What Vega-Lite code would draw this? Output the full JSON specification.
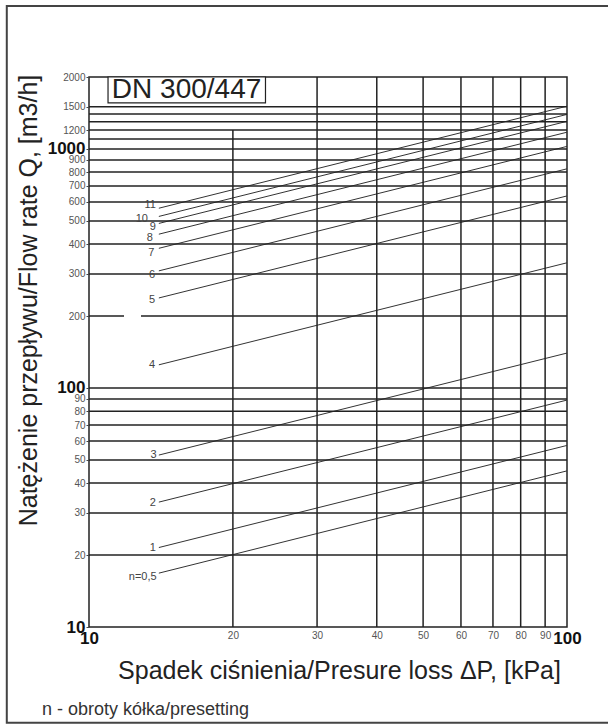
{
  "$schema": "https://vega.github.io/schema/vega-lite/v6.json",
  "width": 478,
  "height": 550,
  "autosize": {"type": "none"},
  "padding": {"left": 89, "top": 77, "right": 41, "bottom": 100},
  "background": "white",
  "config": {
    "view": {"stroke": "#222", "strokeWidth": 1.5},
    "font": "Liberation Sans"
  },
  "title": {
    "text": "n - obroty kółka/presetting",
    "orient": "bottom",
    "anchor": "start",
    "frame": "group",
    "fontSize": 18,
    "fontWeight": "normal",
    "color": "#333",
    "font": "Liberation Sans",
    "dx": -47,
    "offset": -23
  },
  "datasets": {
    "hgrid": [
      {"q": 20, "lo": 10, "hi": 100}, {"q": 30, "lo": 10, "hi": 100}, {"q": 40, "lo": 10, "hi": 100}, {"q": 50, "lo": 10, "hi": 100},
      {"q": 60, "lo": 10, "hi": 100}, {"q": 70, "lo": 10, "hi": 100}, {"q": 80, "lo": 10, "hi": 100}, {"q": 90, "lo": 10, "hi": 100},
      {"q": 100, "lo": 10, "hi": 100}, {"q": 300, "lo": 10, "hi": 100}, {"q": 400, "lo": 10, "hi": 100}, {"q": 500, "lo": 10, "hi": 100},
      {"q": 600, "lo": 10, "hi": 100}, {"q": 700, "lo": 10, "hi": 100}, {"q": 800, "lo": 10, "hi": 100}, {"q": 900, "lo": 10, "hi": 100},
      {"q": 1000, "lo": 10, "hi": 100}, {"q": 1100, "lo": 10, "hi": 100}, {"q": 1200, "lo": 10, "hi": 100}, {"q": 1300, "lo": 10, "hi": 100},
      {"q": 1400, "lo": 10, "hi": 100}, {"q": 1500, "lo": 10, "hi": 100}
    ],
    "dgrid": [
      {"q": 200, "lo": 10, "hi": 100}
    ],
    "vgrid": [
      {"dp": 20, "lo": 10, "hi": 1200}, {"dp": 30, "lo": 10, "hi": 2000}, {"dp": 40, "lo": 10, "hi": 2000}, {"dp": 50, "lo": 10, "hi": 2000},
      {"dp": 60, "lo": 10, "hi": 2000}, {"dp": 70, "lo": 10, "hi": 2000}, {"dp": 80, "lo": 10, "hi": 2000}, {"dp": 90, "lo": 10, "hi": 2000}
    ],
    "curves": [
      {"n": "n=0,5", "dp": 14, "q": 16.8}, {"n": "n=0,5", "dp": 100, "q": 45},
      {"n": "1", "dp": 14, "q": 21.5}, {"n": "1", "dp": 100, "q": 57.5},
      {"n": "2", "dp": 14, "q": 33.3}, {"n": "2", "dp": 100, "q": 89},
      {"n": "3", "dp": 14, "q": 52.4}, {"n": "3", "dp": 100, "q": 140},
      {"n": "4", "dp": 14, "q": 125}, {"n": "4", "dp": 100, "q": 334},
      {"n": "5", "dp": 14, "q": 238}, {"n": "5", "dp": 100, "q": 636},
      {"n": "6", "dp": 14, "q": 309}, {"n": "6", "dp": 100, "q": 826},
      {"n": "7", "dp": 14, "q": 384}, {"n": "7", "dp": 100, "q": 1025},
      {"n": "8", "dp": 14, "q": 440}, {"n": "8", "dp": 100, "q": 1175},
      {"n": "9", "dp": 14, "q": 488}, {"n": "9", "dp": 100, "q": 1305},
      {"n": "10", "dp": 14, "q": 522}, {"n": "10", "dp": 100, "q": 1395},
      {"n": "11", "dp": 14, "q": 565}, {"n": "11", "dp": 100, "q": 1510}
    ],
    "labels": [
      {"n": "11", "dp": 13.8, "q": 583},
      {"n": "10", "dp": 13.28, "q": 510},
      {"n": "9", "dp": 13.8, "q": 472},
      {"n": "8", "dp": 13.6, "q": 424},
      {"n": "7", "dp": 13.7, "q": 367},
      {"n": "6", "dp": 13.75, "q": 297},
      {"n": "5", "dp": 13.75, "q": 233},
      {"n": "4", "dp": 13.75, "q": 125},
      {"n": "3", "dp": 13.85, "q": 52.4},
      {"n": "2", "dp": 13.8, "q": 33.0},
      {"n": "1", "dp": 13.8, "q": 21.4},
      {"n": "n=0,5", "dp": 13.85, "q": 16.2}
    ],
    "box": [
      {"label": "DN 300/447", "dp1": 10.96, "dp2": 23.4, "q1": 1560, "q2": 2000, "dpc": 16.0, "qc": 1766}
    ],
    "frame": [
      {"dp1": 6.73, "dp2": 125, "q1": 3.98, "q2": 3960}
    ]
  },
  "layer": [
    {
      "data": {"name": "curves"},
      "mark": {"type": "line", "color": "#333", "strokeWidth": 1},
      "encoding": {
        "x": {
          "field": "dp", "type": "quantitative",
          "scale": {"type": "log", "domain": [10, 100], "nice": false},
          "axis": {
            "values": [10, 20, 30, 40, 50, 60, 70, 80, 90, 100],
            "format": "d",
            "grid": false,
            "domain": false,
            "ticks": false,
            "labelPadding": 3,
            "labelOverlap": false,
            "labelFlush": false,
            "labelBound": false,
            "labelFont": "Liberation Sans",
            "labelFontSize": {"condition": {"test": "datum.value == 10 || datum.value == 100", "value": 17}, "value": 10},
            "labelFontWeight": {"condition": {"test": "datum.value == 10 || datum.value == 100", "value": "bold"}, "value": "normal"},
            "labelColor": {"condition": {"test": "datum.value == 10 || datum.value == 100", "value": "#111"}, "value": "#555"},
            "title": "Spadek ciśnienia/Presure loss ΔP, [kPa]",
            "titleFont": "Liberation Sans",
            "titleFontSize": 25,
            "titleFontWeight": "normal",
            "titleColor": "#222",
            "titleX": 250,
            "titleY": 51,
            "titleAlign": "center",
            "titleBaseline": "alphabetic"
          }
        },
        "y": {
          "field": "q", "type": "quantitative",
          "scale": {"type": "log", "domain": [10, 2000], "nice": false},
          "axis": {
            "values": [10, 20, 30, 40, 50, 60, 70, 80, 90, 100, 200, 300, 400, 500, 600, 700, 800, 900, 1000, 1200, 1500, 2000],
            "format": "d",
            "grid": false,
            "domain": false,
            "tickSize": 3,
            "tickColor": "#444",
            "labelPadding": 1,
            "labelOverlap": false,
            "labelFlush": false,
            "labelBound": false,
            "labelFont": "Liberation Sans",
            "labelFontSize": {"condition": {"test": "datum.value == 10 || datum.value == 100 || datum.value == 1000", "value": 17}, "value": 10},
            "labelFontWeight": {"condition": {"test": "datum.value == 10 || datum.value == 100 || datum.value == 1000", "value": "bold"}, "value": "normal"},
            "labelColor": {"condition": {"test": "datum.value == 10 || datum.value == 100 || datum.value == 1000", "value": "#111"}, "value": "#555"},
            "title": "Natężenie przepływu/Flow rate Q, [m3/h]",
            "titleFont": "Liberation Sans",
            "titleFontSize": 25,
            "titleFontWeight": "normal",
            "titleColor": "#222",
            "titleAngle": 270,
            "titleX": -53,
            "titleY": 223,
            "titleAlign": "center",
            "titleBaseline": "alphabetic"
          }
        },
        "detail": {"field": "n", "type": "nominal"}
      }
    },
    {
      "data": {"name": "hgrid"},
      "mark": {"type": "rule", "color": "#222", "strokeWidth": 1.5},
      "encoding": {
        "y": {"field": "q", "type": "quantitative"},
        "x": {"field": "lo", "type": "quantitative"},
        "x2": {"field": "hi"}
      }
    },
    {
      "data": {"name": "dgrid"},
      "mark": {"type": "rule", "color": "#222", "strokeWidth": 1.5, "strokeDash": [35, 17, 1000, 0]},
      "encoding": {
        "y": {"field": "q", "type": "quantitative"},
        "x": {"field": "lo", "type": "quantitative"},
        "x2": {"field": "hi"}
      }
    },
    {
      "data": {"name": "vgrid"},
      "mark": {"type": "rule", "color": "#222", "strokeWidth": 1.5},
      "encoding": {
        "x": {"field": "dp", "type": "quantitative"},
        "y": {"field": "lo", "type": "quantitative"},
        "y2": {"field": "hi"}
      }
    },
    {
      "data": {"name": "labels"},
      "mark": {"type": "text", "align": "right", "baseline": "middle", "fontSize": 11, "color": "#444", "font": "Liberation Sans"},
      "encoding": {
        "x": {"field": "dp", "type": "quantitative"},
        "y": {"field": "q", "type": "quantitative"},
        "text": {"field": "n"}
      }
    },
    {
      "data": {"name": "box"},
      "mark": {"type": "rect", "fill": "white", "stroke": "#222", "strokeWidth": 1.2},
      "encoding": {
        "x": {"field": "dp1", "type": "quantitative"},
        "x2": {"field": "dp2"},
        "y": {"field": "q1", "type": "quantitative"},
        "y2": {"field": "q2"}
      }
    },
    {
      "data": {"name": "box"},
      "mark": {"type": "text", "align": "center", "baseline": "middle", "fontSize": 28, "color": "#222", "font": "Liberation Sans"},
      "encoding": {
        "x": {"field": "dpc", "type": "quantitative"},
        "y": {"field": "qc", "type": "quantitative"},
        "text": {"field": "label"}
      }
    },
    {
      "data": {"name": "frame"},
      "mark": {"type": "rect", "fill": null, "fillOpacity": 0, "stroke": "#444", "strokeWidth": 2, "clip": false},
      "encoding": {
        "x": {"field": "dp1", "type": "quantitative"},
        "x2": {"field": "dp2"},
        "y": {"field": "q1", "type": "quantitative"},
        "y2": {"field": "q2"}
      }
    }
  ]
}
